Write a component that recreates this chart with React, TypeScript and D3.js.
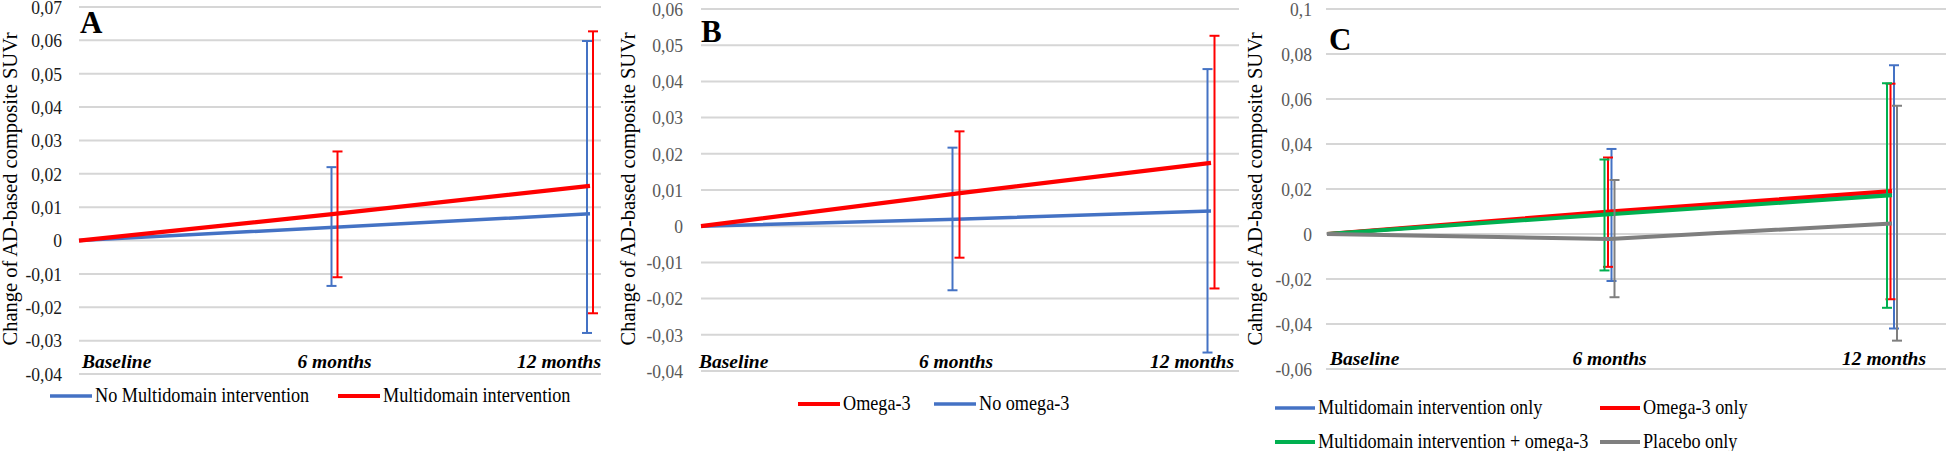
import {useEffect, useRef} from "react"

import * as d3 from "d3"

const categories = ["Baseline", "6 months", "12 months"]

// panel A: multidomain intervention vs none
const aTicks = [-0.04, -0.03, -0.02, -0.01, 0, 0.01, 0.02, 0.03, 0.04, 0.05, 0.06, 0.07]
const aNoMulti = [0, 0.004, 0.008]
const aNoMultiLow = [0, -0.0136, -0.0277]
const aNoMultiHigh = [0, 0.022, 0.0598]
const aMulti = [0, 0.008, 0.0164]
const aMultiLow = [0, -0.011, -0.0218]
const aMultiHigh = [0, 0.0267, 0.0627]

// panel B: omega-3 vs none
const bTicks = [-0.04, -0.03, -0.02, -0.01, 0, 0.01, 0.02, 0.03, 0.04, 0.05, 0.06]
const bOmega = [0, 0.009, 0.0175]
const bOmegaLow = [0, -0.0087, -0.0172]
const bOmegaHigh = [0, 0.0262, 0.0526]
const bNoOmega = [0, 0.0019, 0.0042]
const bNoOmegaLow = [0, -0.0177, -0.0349]
const bNoOmegaHigh = [0, 0.0217, 0.0434]

// panel C: four groups
const cTicks = [-0.06, -0.04, -0.02, 0, 0.02, 0.04, 0.06, 0.08, 0.1]
const cMultiOnly = [0, 0.0093, 0.018]
const cMultiOnlyLow = [0, -0.0209, -0.042]
const cMultiOnlyHigh = [0, 0.0378, 0.075]
const cOmegaOnly = [0, 0.01, 0.0191]
const cOmegaOnlyLow = [0, -0.0146, -0.029]
const cOmegaOnlyHigh = [0, 0.034, 0.0668]
const cBoth = [0, 0.0088, 0.0172]
const cBothLow = [0, -0.0162, -0.0328]
const cBothHigh = [0, 0.0331, 0.067]
const cPlacebo = [0, -0.0022, 0.0047]
const cPlaceboLow = [0, -0.0281, -0.0474]
const cPlaceboHigh = [0, 0.024, 0.057]

const BLUE = "#4472c4"
const RED = "#ff0000"
const GREEN = "#00b050"
const GRAY = "#7f7f7f"
const FONT = "Liberation Serif, DejaVu Serif, serif"

const fmt = d3.formatLocale({decimal: ",", thousands: " ", grouping: [3], currency: ["", ""], minus: "-"}).format("~g")

type Series = {
  name: string
  values: number[]
  low: number[]
  high: number[]
  color: string
  width: number
  offset: number
  legend: [number, number]
}

type Panel = {
  letter: string
  letterPos: [number, number]
  ticks: number[]
  domain: [number, number]
  yRange: [number, number]
  xRange: [number, number]
  gridX: [number, number]
  tickRight: number
  tickColor: string
  yLabel: string
  yLabelX: number
  catY: number
  catStart: number
  catEnd: number
  swatch: number
  series: Series[]
}

const panels: Panel[] = [
  {
    letter: "A",
    letterPos: [80, 33],
    ticks: aTicks,
    domain: [-0.04, 0.07],
    yRange: [374, 7],
    xRange: [79, 590],
    gridX: [79, 601],
    tickRight: 62,
    tickColor: "#1a1a1a",
    yLabel: "Change of AD-based composite SUVr",
    yLabelX: 17,
    catY: 368,
    catStart: 82,
    catEnd: 601,
    swatch: 42,
    series: [
      {name: "No Multidomain intervention", values: aNoMulti, low: aNoMultiLow, high: aNoMultiHigh, color: BLUE, width: 3.5, offset: -3, legend: [50, 396]},
      {name: "Multidomain intervention", values: aMulti, low: aMultiLow, high: aMultiHigh, color: RED, width: 4.2, offset: 3, legend: [338, 396]},
    ],
  },
  {
    letter: "B",
    letterPos: [701, 42],
    ticks: bTicks,
    domain: [-0.04, 0.06],
    yRange: [371, 9],
    xRange: [701, 1211],
    gridX: [701, 1239],
    tickRight: 683,
    tickColor: "#595959",
    yLabel: "Change of AD-based composite SUVr",
    yLabelX: 635,
    catY: 368,
    catStart: 699,
    catEnd: 1234,
    swatch: 42,
    series: [
      {name: "No omega-3", values: bNoOmega, low: bNoOmegaLow, high: bNoOmegaHigh, color: BLUE, width: 3.5, offset: -3.5, legend: [934, 404]},
      {name: "Omega-3", values: bOmega, low: bOmegaLow, high: bOmegaHigh, color: RED, width: 4.2, offset: 3.5, legend: [798, 404]},
    ],
  },
  {
    letter: "C",
    letterPos: [1329, 50],
    ticks: cTicks,
    domain: [-0.06, 0.1],
    yRange: [369, 9],
    xRange: [1327, 1892],
    gridX: [1326, 1946],
    tickRight: 1312,
    tickColor: "#595959",
    yLabel: "Cahnge of AD-based composite SUVr",
    yLabelX: 1261.5,
    catY: 365,
    catStart: 1330,
    catEnd: 1926,
    swatch: 40,
    series: [
      {name: "Multidomain intervention only", values: cMultiOnly, low: cMultiOnlyLow, high: cMultiOnlyHigh, color: BLUE, width: 3.5, offset: 2, legend: [1275, 408]},
      {name: "Omega-3 only", values: cOmegaOnly, low: cOmegaOnlyLow, high: cOmegaOnlyHigh, color: RED, width: 4, offset: -1.5, legend: [1600, 408]},
      {name: "Multidomain intervention + omega-3", values: cBoth, low: cBothLow, high: cBothHigh, color: GREEN, width: 4, offset: -5, legend: [1275, 442]},
      {name: "Placebo only", values: cPlacebo, low: cPlaceboLow, high: cPlaceboHigh, color: GRAY, width: 4, offset: 5, legend: [1600, 442]},
    ],
  },
]

const addText = (
  g: d3.Selection<SVGGElement, unknown, null, undefined>,
  text: string,
  x: number,
  y: number,
  opts: {size: number; anchor?: string; color?: string; sx?: number; italic?: boolean; bold?: boolean; rotate?: boolean; middle?: boolean},
) => {
  const t = g
    .append("text")
    .attr("transform", `translate(${x},${y})${opts.rotate ? " rotate(-90)" : ""} scale(${opts.sx ?? 1},1)`)
    .attr("text-anchor", opts.anchor ?? "start")
    .style("font-family", FONT)
    .style("font-size", `${opts.size}px`)
    .attr("fill", opts.color ?? "#000")
    .text(text)
  if (opts.italic) t.style("font-style", "italic")
  if (opts.bold) t.style("font-weight", "bold")
  if (opts.middle) t.attr("dy", "0.35em")
  return t
}

const drawPanel = (svg: d3.Selection<SVGSVGElement, unknown, null, undefined>, p: Panel) => {
  const g = svg.append("g")
  const y = d3.scaleLinear().domain(p.domain).range(p.yRange)
  const x = d3.scalePoint<string>().domain(categories).range(p.xRange)

  // gridlines + tick labels
  for (const t of p.ticks) {
    g.append("line")
      .attr("x1", p.gridX[0])
      .attr("x2", p.gridX[1])
      .attr("y1", y(t))
      .attr("y2", y(t))
      .attr("stroke", "#d6d6d6")
      .attr("stroke-width", 2)
    addText(g, fmt(t), p.tickRight, y(t), {size: 19.5, anchor: "end", color: p.tickColor, sx: 0.9, middle: true})
  }

  // category labels
  categories.forEach((c, i) => {
    const anchor = i === 0 ? "start" : i === categories.length - 1 ? "end" : "middle"
    const px = i === 0 ? p.catStart : i === categories.length - 1 ? p.catEnd : x(c)!
    addText(g, c, px, p.catY, {size: 19.5, anchor, italic: true, bold: true})
  })

  addText(g, p.yLabel, p.yLabelX, 189, {size: 20.5, anchor: "middle", rotate: true})
  addText(g, p.letter, p.letterPos[0], p.letterPos[1], {size: 31, bold: true})

  const line = d3
    .line<number>()
    .x((_, i) => x(categories[i])!)
    .y((d) => y(d))

  for (const s of p.series) {
    g.append("path")
      .attr("d", line(s.values))
      .attr("fill", "none")
      .attr("stroke", s.color)
      .attr("stroke-width", s.width)
      .attr("stroke-linejoin", "round")

    s.values.forEach((_, i) => {
      if (s.low[i] === s.high[i]) return
      const cx = x(categories[i])! + s.offset
      const eb = g.append("g").attr("stroke", s.color).attr("stroke-width", 2)
      eb.append("line").attr("x1", cx).attr("x2", cx).attr("y1", y(s.low[i])).attr("y2", y(s.high[i]))
      eb.append("line").attr("x1", cx - 5).attr("x2", cx + 5).attr("y1", y(s.low[i])).attr("y2", y(s.low[i]))
      eb.append("line").attr("x1", cx - 5).attr("x2", cx + 5).attr("y1", y(s.high[i])).attr("y2", y(s.high[i]))
    })

    const [lx, ly] = s.legend
    g.append("line")
      .attr("x1", lx)
      .attr("x2", lx + p.swatch)
      .attr("y1", ly)
      .attr("y2", ly)
      .attr("stroke", s.color)
      .attr("stroke-width", s.width)
    addText(g, s.name, lx + p.swatch + 3, ly + 6, {size: 20, sx: 0.91})
  }
}

const App = (): JSX.Element => {
  const ref = useRef<SVGSVGElement>(null)
  useEffect(() => {
    if (!ref.current) return
    const svg = d3.select(ref.current)
    svg.selectAll("*").remove()
    svg.append("rect").attr("width", 1946).attr("height", 451).attr("fill", "#fff")
    for (const p of panels) drawPanel(svg, p)
  }, [])
  return (
    <svg
      ref={ref}
      width={1946}
      height={451}
      style={{position: "absolute", left: 0, top: 0}}
    />
  )
}

export default App
